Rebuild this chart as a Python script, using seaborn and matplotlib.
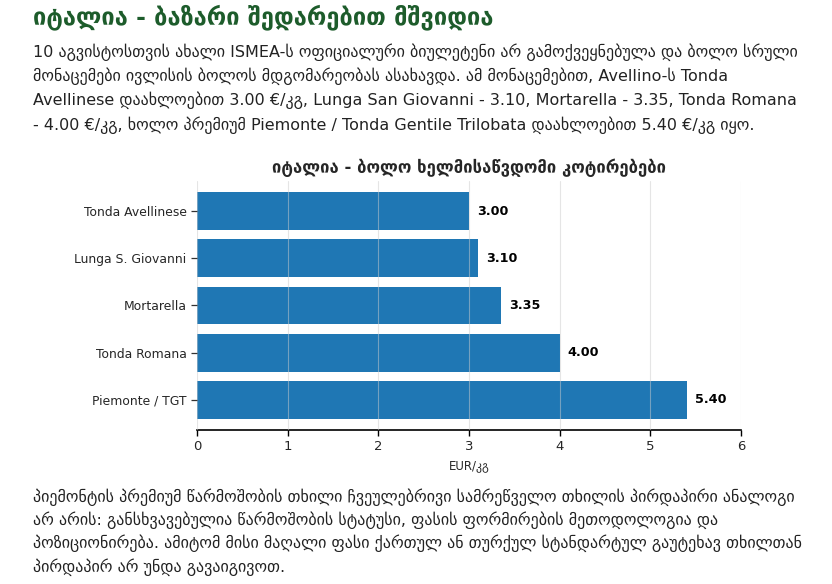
import matplotlib
matplotlib.use('Agg')
import matplotlib.pyplot as plt
import seaborn as sns

# data
varieties = ['Tonda Avellinese', 'Lunga S. Giovanni', 'Mortarella', 'Tonda Romana', 'Piemonte / TGT']
prices = [3.00, 3.10, 3.35, 4.00, 5.40]
x_ticks = [0, 1, 2, 3, 4, 5, 6]

page_title = 'იტალია - ბაზარი შედარებით მშვიდია'
intro_lines = [
    '10 აგვისტოსთვის ახალი ISMEA-ს ოფიციალური ბიულეტენი არ გამოქვეყნებულა და ბოლო სრული',
    'მონაცემები ივლისის ბოლოს მდგომარეობას ასახავდა. ამ მონაცემებით, Avellino-ს Tonda',
    'Avellinese დაახლოებით 3.00 €/კგ, Lunga San Giovanni - 3.10, Mortarella - 3.35, Tonda Romana',
    '- 4.00 €/კგ, ხოლო პრემიუმ Piemonte / Tonda Gentile Trilobata დაახლოებით 5.40 €/კგ იყო.',
]
outro_lines = [
    'პიემონტის პრემიუმ წარმოშობის თხილი ჩვეულებრივი სამრეწველო თხილის პირდაპირი ანალოგი',
    'არ არის: განსხვავებულია წარმოშობის სტატუსი, ფასის ფორმირების მეთოდოლოგია და',
    'პოზიციონირება. ამიტომ მისი მაღალი ფასი ქართულ ან თურქულ სტანდარტულ გაუტეხავ თხილთან',
    'პირდაპირ არ უნდა გავაიგივოთ.',
]
chart_title = 'იტალია - ბოლო ხელმისაწვდომი კოტირებები'
x_label = 'EUR/კგ'

sns.set_theme(style='white')
plt.rcParams['font.family'] = ['DejaVu Sans']

W, H = 832, 584
fig = plt.figure(figsize=(W / 100, H / 100), dpi=100)

green = '#1d5c2b'
txt = '#222222'

fig.text(33 / W, 1 - 17 / H, page_title, fontsize=17, fontweight='bold', color=green, va='center', ha='left')
for i, line in enumerate(intro_lines):
    fig.text(33 / W, 1 - (52 + i * 24.3) / H, line, fontsize=11.5, color=txt, va='center', ha='left')
for i, line in enumerate(outro_lines):
    fig.text(33 / W, 1 - (497 + i * 23.3) / H, line, fontsize=11.5, color=txt, va='center', ha='left')

ax = fig.add_axes([197 / W, 1 - 430 / H, 544 / W, 249 / H])
sns.barplot(x=prices, y=varieties, orient='h', color='#1f77b4', saturation=1, width=0.8, linewidth=0, ax=ax)
ax.set_xlim(0, 6)
ax.set_ylim(4.64, -0.64)
ax.set_xticks(x_ticks)
ax.xaxis.grid(True, color='#cccccc', linewidth=0.8, alpha=0.5)
ax.yaxis.grid(False)
ax.set_axisbelow(False)

for i, v in enumerate(prices):
    ax.text(v + 0.09, i, f'{v:.2f}', va='center', ha='left', fontsize=9.2, fontweight='bold', color='black')

for s in ['top', 'right', 'left']:
    ax.spines[s].set_visible(False)
ax.spines['bottom'].set_color('black')
ax.spines['bottom'].set_linewidth(1.2)
ax.tick_params(axis='x', bottom=True, length=4, width=1, color='black', labelsize=9.5, pad=3)
ax.tick_params(axis='y', left=True, length=4.5, width=0.9, color='#333333', labelsize=8.9, pad=3)
ax.set_ylabel('')
ax.set_xlabel(x_label, fontsize=8.5, labelpad=5)
ax.set_title(chart_title, fontsize=12, fontweight='bold', pad=6)

fig.savefig('out.png', dpi=100, facecolor='white')
